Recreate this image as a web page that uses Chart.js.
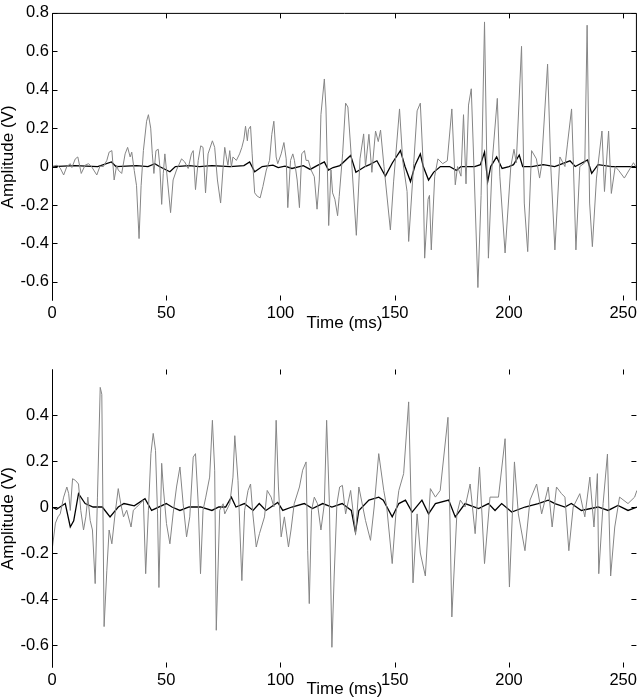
<!DOCTYPE html>
<html><head><meta charset="utf-8">
<script src="https://cdn.jsdelivr.net/npm/chart.js@4/dist/chart.umd.min.js"></script>
<style>
html,body{margin:0;padding:0;background:#fff;width:640px;height:698px;overflow:hidden}
#c1{position:absolute;left:0;top:0}
#c2{position:absolute;left:0;top:340px}
</style></head>
<body>
<canvas id="c1" width="640" height="340"></canvas>
<canvas id="c2" width="640" height="358"></canvas>
<script>
// ---------- DATA ----------
const xTicks = [0, 50, 100, 150, 200, 250];
const yTicksTop = [-0.6, -0.4, -0.2, 0, 0.2, 0.4, 0.6, 0.8];
const yTicksBottom = [-0.6, -0.4, -0.2, 0, 0.2, 0.4];
const xTitle = "Time (ms)";
const yTitle = "Amplitude (V)";

// Top panel – gray signal
const topGrayT = [0,2.2,3.6,5.1,6.5,8,8.7,10.2,11.3,12.8,14.5,16,17.4,19.6,21,22.5,24,25,26.2,27.2,28.3,29,30.5,32,33.1,34.2,34.9,36,37,38.1,39,40,41.4,42.2,43.2,43.9,44.6,45.5,46.5,47.2,48,48.7,49.4,50.1,51.9,53,54.5,56.7,58.1,59.6,61,61.8,62.8,64,65.1,66.1,67.2,68.3,70.2,71.2,72.4,73.8,74.8,75.6,76.3,77,77.8,78.5,79.2,80.7,82.1,83.1,84,84.7,85.5,86,86.9,87.6,88.7,89.8,91.1,92.3,93.8,95.2,96.2,97.1,98.1,98.8,100.3,101.5,102.5,103.2,104.4,105.4,106.1,107.3,108.3,109.3,110.5,111.2,112.2,113.4,114.8,116,117,117.7,119.2,119.9,121.1,122.1,122.8,123.8,125,125.7,127.2,128.5,129.5,131,133.2,134.8,136.4,137.2,138.7,140,141.6,142.8,143.8,145.3,148.1,149.5,152.1,153.5,155.4,156.1,158.3,159.8,161.2,162.3,163.1,164.6,165.2,166,167.5,168.9,171,173,175,176.5,177.5,179,180.1,181.2,182.3,183.5,184.5,186.4,187.8,189.3,191,192.7,194.9,196,198.3,200.8,202.2,203.2,205.5,206.7,208.2,209.9,212,213.4,214.2,216.9,218.3,220.1,222.3,224.5,225.6,227.4,228.1,229.3,231,233.2,234.2,235.3,236.5,238.3,240.7,241.8,243.6,244.8,246.5,248,250.5,253,254.5,256];
const topGrayV = [0,0.007,-0.008,-0.044,0,0.015,-0.005,0.04,0.05,-0.036,0.007,0.015,-0.002,-0.044,0.002,0,0.032,0.075,0.083,-0.07,0.007,-0.018,-0.036,0.066,0.1,0.05,0.075,-0.02,-0.1,-0.375,-0.1,0.083,0.236,0.27,0.2,0.066,-0.036,0.083,0.09,0,-0.197,-0.036,0.066,-0.018,-0.24,-0.07,-0.018,0.04,0.024,-0.01,0.066,0.083,-0.12,0.032,0.108,0.1,-0.137,0.066,0.134,0.1,-0.07,-0.19,-0.018,0.1,0.05,0.007,0.083,-0.002,0.05,0.032,0.066,0.1,0.143,0.21,0.134,0.193,0.21,0.066,-0.137,-0.154,-0.163,-0.104,-0.018,0.032,0.168,0.236,0.05,0.015,0.066,0.125,0.04,-0.214,0.032,0.066,0.032,-0.07,-0.214,0.066,0.083,0.032,0.032,-0.018,-0.053,-0.222,-0.07,0.27,0.456,0.305,-0.307,-0.018,-0.137,-0.17,-0.256,-0.155,0.066,0.33,0.31,0.05,-0.358,0.04,0.17,0,0.168,-0.03,0.185,0.13,0.19,0,-0.33,-0.08,0.3,0.03,-0.13,-0.39,0.015,0.29,0.33,0.05,-0.477,-0.17,-0.15,-0.434,-0.05,0.04,0.015,0.03,0.3,-0.095,0,-0.05,0.27,-0.09,0.32,0.405,0.06,-0.63,-0.15,0.753,-0.477,0.03,0.355,-0.05,-0.45,0,0.09,0.02,0.626,-0.19,-0.443,0.083,0.04,-0.06,0,0.533,0,-0.434,0.05,0,0.117,0.3,0.05,-0.434,0,0.02,0.736,-0.19,-0.417,-0.06,0.185,-0.13,0.185,-0.14,0,-0.02,-0.06,-0.01,0.02,-0.01];

// Top panel – black signal
const topBlackT = [0,10,20,26,28,37,42,45,47,51.6,54,60,64.5,70,78,84,86.5,88.7,92,96.7,99,102,105,110,113,116,119.2,121,123,126,130.7,133,137,139,142.2,145.9,149,152.5,154.5,156.9,159,161.2,162.5,164.8,167,170,174,177,179,185,187.5,189.3,190.7,192,194.6,197,200,202,204.5,206,210,215,220,226.7,229,234.4,236.2,239,245,250,256];
const topBlackV = [0,0.005,0,0.024,0,0.005,0,0.015,0,-0.027,0,0.005,0,0.005,0,0.005,0.024,-0.027,0,0.007,-0.005,0.002,-0.01,0.005,-0.015,0.005,0.024,-0.018,-0.005,0.005,0.058,-0.03,0,0.01,0.03,-0.05,0.02,0.083,0,-0.078,0.01,0.066,0,-0.07,-0.03,0,0,-0.02,0,0,0.01,0.075,-0.078,0,0.05,-0.01,0,0.01,0.06,0,0,0.01,0,0.03,0,0.034,-0.035,0.01,0,0,0];

// Bottom panel – gray signal
const botGrayT = [0,1.5,2.6,3.6,5.1,6.5,7.3,8,9,10.2,11.6,12.6,13.8,14.8,15.7,16.7,17.7,18.9,19.9,21.1,21.8,22.8,24,25,26.2,27.6,29,30.1,31.3,32.7,34.6,35.6,37.1,38.5,40,41,42.2,43.3,44.3,45.3,46.2,46.8,48,48.7,50.1,51.6,53,54.5,56,57.4,58.9,60.3,61.8,62.8,64,65,66.1,67.3,69,70.2,71.2,71.9,73.4,74.9,75.6,77.8,79.2,80,81.4,83.1,84.3,85.8,86.9,87.9,89.4,90.8,93,94.2,95.9,97.1,98.1,99.1,100.3,101.7,103.5,104.6,106,108.3,109.7,111.2,111.9,112.6,113.6,114.8,116.2,117.7,119.2,120.2,121.4,122.5,123.5,124.7,125.9,127.1,128.5,130.7,132.9,134.3,137.2,139.4,141,143,145.2,146.5,148.9,150.5,151.8,153.9,156.1,158,159.8,161.2,163.4,165.6,167.8,169.9,173.3,175,177.2,178.7,180.8,183,185.2,187.1,189.3,191.7,195.4,198.3,200.2,202.4,204.1,207,209.2,212.1,214.3,217.2,218.9,220.8,223,224.5,226.2,228.1,231,233.2,235.4,237.2,238.7,239.3,241.2,243.1,244.5,246.3,248.4,252.1,255,256];
const botGrayV = [-0.19,-0.07,-0.043,-0.03,0.043,0.087,0.058,-0.015,0.123,0.116,0.1,-0.015,-0.1,-0.043,0.043,-0.058,-0.1,-0.333,0.043,0.52,0.49,-0.52,-0.275,-0.1,-0.16,-0.03,0.08,0.014,-0.043,-0.014,-0.087,-0.014,0,0.014,0.03,-0.29,-0.014,0.232,0.32,0.246,-0.03,-0.35,0.19,0.087,-0.072,-0.16,-0.03,0.087,0.174,0.014,-0.13,-0.043,0.217,0.232,0.014,-0.29,-0.014,0.043,0.13,0.377,0.16,-0.536,-0.014,0.014,-0.03,0.014,0.13,0.31,0.116,-0.32,-0.014,0.072,0.1,-0.03,-0.174,-0.116,-0.043,0.072,0.043,0,0.377,0.087,-0.13,-0.043,-0.174,-0.1,0.014,0.087,0.16,0.196,-0.19,-0.42,-0.014,0.043,0.014,-0.1,0.014,0.377,0.014,-0.61,-0.3,0.014,0.087,0.094,-0.03,0.072,-0.116,0.087,-0.058,-0.145,0,0.232,0.072,0,-0.246,-0.03,0.072,0.145,0.457,-0.33,-0.03,-0.2,-0.3,0.08,0.043,0.072,0.39,-0.478,-0.03,0.03,0,0.1,-0.116,0.174,-0.246,0.043,0.043,0.297,-0.348,0.196,-0.03,-0.19,0.03,0.1,-0.03,0.087,-0.087,0.087,0.058,0.043,-0.19,0,0.058,-0.043,0.13,-0.087,0.145,-0.29,0.015,0.23,-0.3,-0.087,0.043,0.015,0.043,0.072];

// Bottom panel – black signal
const botBlackT = [0,2,5.8,8,9.5,11.6,14.5,18,22,25.4,29,31.5,36,40.7,43.6,50,52.5,56,60,65,70,73,76,78.5,80.5,84.2,88,90.7,93.6,98.8,101,105,110.4,114,118.5,122.5,127,131,132.8,134.3,138.7,143,145,148.9,151.8,154.7,157.6,161.9,164.8,167.8,173.6,176.5,180.8,186.7,191,193.9,196.8,201.2,207,212.8,217.2,220.1,224.5,227.3,231.7,239,243.4,247.7,252.1,256];
const botBlackV = [0,-0.01,0.015,-0.087,-0.06,0.058,0.015,0.0,0.0,-0.043,0,0.015,0.005,0.036,-0.015,0.015,0.0,-0.015,0,0.0,-0.015,0.0,0.0,0.043,0.0,0.015,-0.015,0.015,-0.015,0.02,-0.015,0,0.015,-0.007,0.015,0,0.015,-0.015,-0.109,-0.015,0.03,0.043,0.03,-0.043,0.015,0.03,-0.022,0.03,-0.03,0.015,0.03,-0.043,0.015,-0.007,0.015,-0.015,0.015,-0.022,0,0.015,0.03,0.015,0,0.015,-0.015,0,-0.015,0.007,-0.015,0];

// ---------- RENDERING ----------
const FAMILY = "'Liberation Sans', Arial, Helvetica, sans-serif";
const TICK_FONT = {family: FAMILY, size: 16.5};
const TITLE_FONT = {family: FAMILY, size: 17, lineHeight: 1};
const zip = (t, v) => t.map((x, i) => ({x, y: v[i]}));

const framePlugin = {
  id: 'frame',
  afterDraw(chart, args, opts) {
    const {ctx, chartArea: a, scales} = chart;
    const xs = scales.x, ys = scales.y;
    const L = a.left + 0.5, R = a.right - 0.5, T = a.top + 0.5, B = a.bottom - 0.5;
    ctx.save();
    ctx.strokeStyle = '#000';
    ctx.lineWidth = 1;
    ctx.beginPath();
    ctx.moveTo(L, B); ctx.lineTo(L, T);
    if (opts.top) { ctx.moveTo(L, T); ctx.lineTo(R, T); }
    if (opts.right) { ctx.moveTo(R, T); ctx.lineTo(R, B); }
    const tl = 5;
    xs.ticks.forEach(t => {
      const px = Math.round(xs.getPixelForValue(t.value)) + 0.5;
      ctx.moveTo(px, B); ctx.lineTo(px, B - tl);
      ctx.moveTo(px, T); ctx.lineTo(px, T + tl);
    });
    ys.ticks.forEach(t => {
      const py = Math.round(ys.getPixelForValue(t.value)) + 0.5;
      ctx.moveTo(L, py); ctx.lineTo(L + tl, py);
      ctx.moveTo(R, py); ctx.lineTo(R - tl, py);
    });
    ctx.stroke();
    ctx.restore();
  }
};

function makeChart(id, grayT, grayV, blackT, blackV, yTicks, yMin, yMax, padTop, xAxisH, xTitlePad, frameOpts) {
  return new Chart(document.getElementById(id), {
    type: 'line',
    data: {
      datasets: [
        {data: zip(grayT, grayV), borderColor: '#858585', borderWidth: 1, pointRadius: 0, tension: 0, fill: false},
        {data: zip(blackT, blackV), borderColor: '#000000', borderWidth: 1.3, pointRadius: 0, tension: 0, fill: false}
      ]
    },
    options: {
      responsive: false,
      animation: false,
      events: [],
      layout: {padding: {top: padTop, right: 1, left: 0, bottom: 0}},
      plugins: {legend: {display: false}, tooltip: {enabled: false}, frame: frameOpts},
      scales: {
        x: {
          type: 'linear', min: 0, max: 256,
          afterBuildTicks: s => { s.ticks = xTicks.map(v => ({value: v})); },
          afterFit: s => { s.height = xAxisH; },
          grid: {display: false, drawTicks: false},
          border: {display: false},
          ticks: {color: '#000', font: TICK_FONT, padding: 3, maxRotation: 0, autoSkip: false,
                  callback: v => String(v)},
          title: {display: true, text: xTitle, color: '#000', font: TITLE_FONT, padding: {top: 0, bottom: xTitlePad}}
        },
        y: {
          type: 'linear', min: yMin, max: yMax,
          afterBuildTicks: s => { s.ticks = yTicks.map(v => ({value: v})); },
          afterFit: s => { s.width = 52; },
          grid: {display: false, drawTicks: false},
          border: {display: false},
          ticks: {color: '#000', font: TICK_FONT, padding: 3, autoSkip: false,
                  callback: v => String(v)},
          title: {display: true, text: yTitle, color: '#000', font: TITLE_FONT, padding: {top: 0, bottom: 0}}
        }
      }
    },
    plugins: [framePlugin]
  });
}

makeChart('c1', topGrayT, topGrayV, topBlackT, topBlackV, yTicksTop, -0.7, 0.8, 6, 39, 8, {top: true, right: true});
makeChart('c2', botGrayT, botGrayV, botBlackT, botBlackV, yTicksBottom, -0.7, 0.6, 29, 30, 0, {top: false, right: false});
</script>
</body></html>
